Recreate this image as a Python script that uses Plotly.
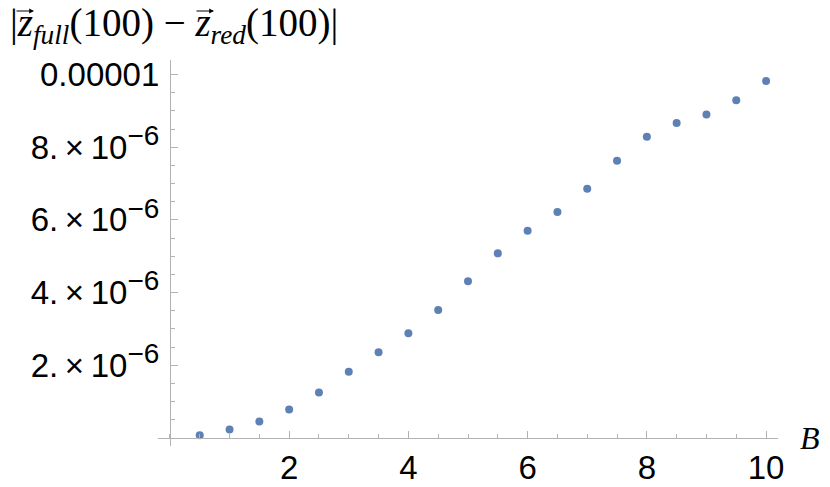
import plotly.graph_objects as go

# B values and |z_full(100) - z_red(100)|
B = [0.5, 1.0, 1.5, 2.0, 2.5, 3.0, 3.5, 4.0, 4.5, 5.0,
     5.5, 6.0, 6.5, 7.0, 7.5, 8.0, 8.5, 9.0, 9.5, 10.0]
diff = [0.077e-6, 0.234e-6, 0.454e-6, 0.784e-6, 1.25e-6, 1.82e-6, 2.36e-6, 2.88e-6, 3.52e-6, 4.31e-6,
        5.08e-6, 5.70e-6, 6.22e-6, 6.86e-6, 7.63e-6, 8.29e-6, 8.67e-6, 8.90e-6, 9.29e-6, 9.82e-6]

x_ticks = [2, 4, 6, 8, 10]
y_ticks = [2e-6, 4e-6, 6e-6, 8e-6, 1e-5]
y_mant = ["2.", "4.", "6.", "8."]
y_ticktext = [m + "\u2009\u00d7\u200910<sup><span style='font-size:28px'>\u22126</span></sup>" for m in y_mant] + ["0.00001"]

xr = [-0.2, 10.2]
yr = [-0.22e-6, 10.4e-6]
axis_col = "#b3b3b3"

fig = go.Figure()
fig.add_trace(go.Scatter(x=B, y=diff, mode="markers",
                         marker=dict(color="#5e81b5", size=8), showlegend=False))

# page body adds an 8px offset, so the figure is drawn 8px smaller
fig.update_layout(
    width=822, height=479,
    margin=dict(l=150, r=52, t=52, b=41),
    plot_bgcolor="white", paper_bgcolor="white",
    font=dict(family="Liberation Sans, Arial, sans-serif", size=33, color="black"),
    xaxis=dict(range=xr, showgrid=False, zeroline=False, showline=True, linecolor=axis_col,
               linewidth=1, anchor="free", position=(0 - yr[0]) / (yr[1] - yr[0]), automargin=False,
               tickvals=x_ticks, ticks="inside", ticklen=7, tickcolor=axis_col,
               minor=dict(dtick=0.5, tick0=0, ticks="inside", ticklen=4, tickcolor=axis_col)),
    yaxis=dict(range=yr, showgrid=False, zeroline=False, showline=True, linecolor=axis_col,
               linewidth=1, anchor="free", position=(0 - xr[0]) / (xr[1] - xr[0]), automargin=False,
               tickvals=y_ticks, ticktext=y_ticktext, ticks="inside", ticklen=7, tickcolor=axis_col,
               ticklabelstandoff=4,
               minor=dict(dtick=0.5e-6, tick0=0, ticks="inside", ticklen=4, tickcolor=axis_col)),
)

serif = "Liberation Serif, Times New Roman, serif"
fig.add_annotation(xref="paper", yref="paper", x=-0.242, y=1.090, xanchor="left", yanchor="middle",
                   showarrow=False, font=dict(family=serif, size=39, color="black"),
                   text="|<i>z</i><sub><i>full</i></sub>(100)\u00a0\u2212\u00a0<i>z</i><sub><i>red</i></sub>(100)|")
# vector arrows over the two z's
for hx in [-0.200, 0.0903]:
    fig.add_annotation(xref="paper", yref="paper", x=hx, y=1.127, ax=-19, ay=0,
                       showarrow=True, arrowhead=2, arrowsize=0.8, arrowwidth=1.2,
                       arrowcolor="black", standoff=0, text="")
fig.add_annotation(xref="paper", yref="y", x=1.0516, y=0, xanchor="center", yanchor="middle",
                   showarrow=False, font=dict(family=serif, size=32, color="black"),
                   text="<i>B</i>")

fig.write_html("out.html")
